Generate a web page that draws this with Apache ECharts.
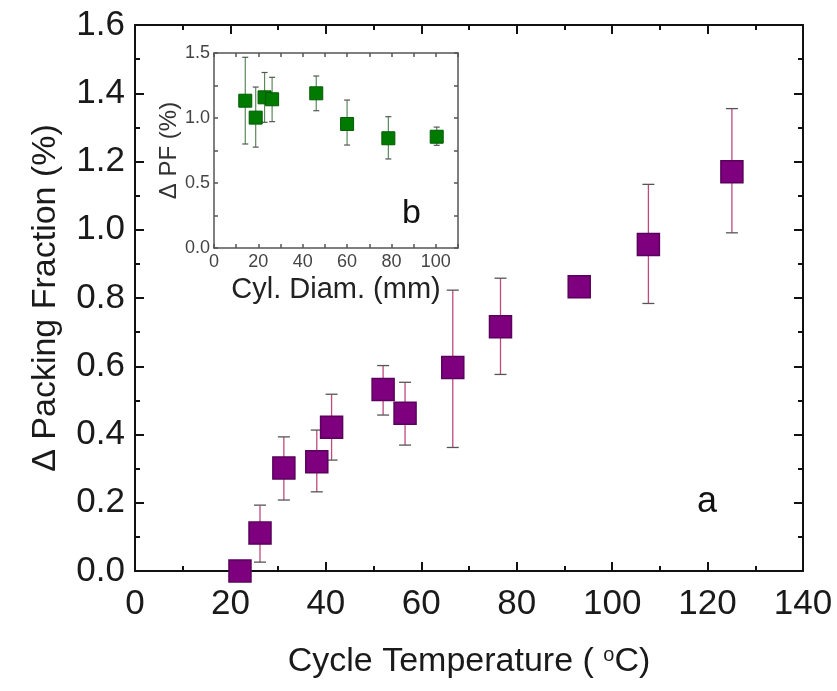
<!DOCTYPE html>
<html>
<head>
<meta charset="utf-8">
<script src="https://cdn.jsdelivr.net/npm/echarts@6/dist/echarts.min.js"></script>
<style>
  html, body { margin: 0; padding: 0; background: #fff; }
  #chart { width: 837px; height: 691px; }
</style>
</head>
<body>
<div id="chart"></div>
<script>
// Panel a: packing fraction change vs. cycle temperature
const tempC      = [22,   26.2,  31.2,  38.1,  41.2,  52.0,  56.6,  66.6,  76.6,  93.1,  107.6, 125.1];
const packDelta  = [0.0,  0.111, 0.302, 0.320, 0.421, 0.532, 0.462, 0.596, 0.716, 0.833, 0.957, 1.170];
const packLow    = [0.0,  0.026, 0.208, 0.232, 0.325, 0.457, 0.369, 0.362, 0.576, 0.815, 0.784, 0.991];
const packHigh   = [0.0,  0.193, 0.393, 0.413, 0.518, 0.602, 0.553, 0.823, 0.858, 0.851, 1.133, 1.355];

// Panel b: packing fraction change vs. cylinder diameter
const diamMm     = [14.1, 18.8, 22.8, 26.2, 46.1, 60.0, 78.6, 100.4];
const pfDelta    = [1.133, 1.003, 1.159, 1.144, 1.190, 0.954, 0.844, 0.856];
const pfLow      = [0.800, 0.776, 0.967, 0.972, 1.056, 0.792, 0.685, 0.790];
const pfHigh     = [1.467, 1.238, 1.350, 1.313, 1.323, 1.138, 1.010, 0.930];

const mainXTicks = [0, 20, 40, 60, 80, 100, 120, 140];
const mainYTicks = [0.0, 0.2, 0.4, 0.6, 0.8, 1.0, 1.2, 1.4, 1.6];
const insetXTicks = [0, 20, 40, 60, 80, 100];
const insetYTicks = [0.0, 0.5, 1.0, 1.5];

const FONT = '"Liberation Sans", Arial, sans-serif';

function errorBars(capHalf, stemColor, capColor, width) {
  return function (params, api) {
    const x = api.value(0), lo = api.value(1), hi = api.value(2);
    if (lo === hi) return null;
    const a = api.coord([x, lo]);
    const b = api.coord([x, hi]);
    const st = { stroke: stemColor, lineWidth: width };
    const ct = { stroke: capColor, lineWidth: width };
    return {
      type: 'group',
      children: [
        { type: 'line', shape: { x1: a[0], y1: a[1], x2: b[0], y2: b[1] }, style: st },
        { type: 'line', shape: { x1: b[0] - capHalf, y1: b[1], x2: b[0] + capHalf, y2: b[1] }, style: ct },
        { type: 'line', shape: { x1: a[0] - capHalf, y1: a[1], x2: a[0] + capHalf, y2: a[1] }, style: ct }
      ]
    };
  };
}

const chart = echarts.init(document.getElementById('chart'), null, { renderer: 'canvas' });

const mainLine = { show: true, onZero: false, lineStyle: { color: '#111', width: 2 } };
const insetLine = { show: true, onZero: false, lineStyle: { color: '#555', width: 1.5 } };

function mainX(pos, labels) {
  return {
    gridIndex: 0, type: 'value', position: pos, min: 0, max: 140, interval: 20,
    axisLine: mainLine,
    axisTick: { show: true, inside: true, length: 9, lineStyle: { color: '#111', width: 2 } },
    minorTick: { show: true, splitNumber: 2, length: 5, lineStyle: { color: '#111', width: 2 } },
    splitLine: { show: false },
    axisLabel: labels ? {
      show: true, margin: 16, color: '#1a1a1a', fontFamily: FONT, fontSize: 35,
      formatter: v => mainXTicks.includes(v) ? String(v) : ''
    } : { show: false }
  };
}
function mainY(pos, labels) {
  return {
    gridIndex: 0, type: 'value', position: pos, min: 0, max: 1.6, interval: 0.2,
    axisLine: mainLine,
    axisTick: { show: true, inside: true, length: 9, lineStyle: { color: '#111', width: 2 } },
    minorTick: { show: true, splitNumber: 2, length: 5, lineStyle: { color: '#111', width: 2 } },
    splitLine: { show: false },
    axisLabel: labels ? {
      show: true, margin: 10, color: '#1a1a1a', fontFamily: FONT, fontSize: 35,
      formatter: v => {
        const t = mainYTicks.find(k => Math.abs(k - v) < 1e-6);
        return t === undefined ? '' : t.toFixed(1);
      }
    } : { show: false }
  };
}
function insetX(pos, labels) {
  return {
    gridIndex: 1, type: 'value', position: pos, min: 0, max: 110, interval: 10,
    axisLine: insetLine,
    axisTick: { show: true, inside: true, length: 4, lineStyle: { color: '#555', width: 1.5 } },
    splitLine: { show: false },
    axisLabel: labels ? {
      show: true, margin: 5, color: '#444', fontFamily: FONT, fontSize: 18,
      formatter: v => insetXTicks.includes(v) ? String(v) : ''
    } : { show: false }
  };
}
function insetY(pos, labels) {
  return {
    gridIndex: 1, type: 'value', position: pos, min: 0, max: 1.5, interval: 0.25,
    axisLine: insetLine,
    axisTick: { show: true, inside: true, length: 4, lineStyle: { color: '#555', width: 1.5 } },
    splitLine: { show: false },
    axisLabel: labels ? {
      show: true, margin: 4, color: '#444', fontFamily: FONT, fontSize: 18,
      formatter: v => {
        const t = insetYTicks.find(k => Math.abs(k - v) < 1e-6);
        return t === undefined ? '' : t.toFixed(1);
      }
    } : { show: false }
  };
}

const xA = [mainX('bottom', true), mainX('top', false), insetX('bottom', true), insetX('top', false)];
xA[0].name = 'Cycle Temperature ( {sup|o}C)';
xA[0].nameLocation = 'middle';
xA[0].nameGap = 74;
xA[0].nameTextStyle = {
  color: '#1a1a1a', fontFamily: FONT, fontSize: 34,
  rich: { sup: { fontFamily: FONT, fontSize: 20, color: '#1a1a1a', verticalAlign: 'top', padding: [0, 0, 14, 0] } }
};
xA[2].name = 'Cyl. Diam. (mm)';
xA[2].nameLocation = 'middle';
xA[2].nameGap = 27;
xA[2].nameTextStyle = { color: '#222', fontFamily: FONT, fontSize: 29 };

const yA = [mainY('left', true), mainY('right', false), insetY('left', true), insetY('right', false)];
yA[0].name = 'Δ Packing Fraction (%)';
yA[0].nameLocation = 'middle';
yA[0].nameGap = 72;
yA[0].nameTextStyle = { color: '#1a1a1a', fontFamily: FONT, fontSize: 34 };
yA[2].name = 'Δ PF (%)';
yA[2].nameLocation = 'middle';
yA[2].nameGap = 33;
yA[2].nameTextStyle = { color: '#333', fontFamily: FONT, fontSize: 24 };

chart.setOption({
  animation: false,
  backgroundColor: '#fff',
  grid: [
    { left: 135, right: 34, top: 25, bottom: 120 },
    { left: 214, top: 53, width: 244, height: 195, show: true, backgroundColor: '#fff', borderWidth: 0 }
  ],
  xAxis: xA,
  yAxis: yA,
  graphic: [
    { type: 'text', left: 697, top: 484, style: { text: 'a', font: '36px ' + FONT, fill: '#111' } },
    { type: 'text', left: 402, top: 197, style: { text: 'b', font: '34px ' + FONT, fill: '#111' } }
  ],
  series: [
    {
      type: 'custom', xAxisIndex: 0, yAxisIndex: 0, z: 2,
      renderItem: errorBars(6, '#c04a7e', '#555', 1.3),
      data: tempC.map((t, i) => [t, packLow[i], packHigh[i]])
    },
    {
      type: 'scatter', xAxisIndex: 0, yAxisIndex: 0, z: 3,
      symbol: 'rect', symbolSize: 22,
      itemStyle: { color: '#7e007f', borderColor: '#5a005c', borderWidth: 1.5, opacity: 1 },
      data: tempC.map((t, i) => [t, packDelta[i]])
    },
    {
      type: 'custom', xAxisIndex: 2, yAxisIndex: 2, z: 4,
      renderItem: errorBars(3, '#5a8a5a', '#555', 1.2),
      data: diamMm.map((d, i) => [d, pfLow[i], pfHigh[i]])
    },
    {
      type: 'scatter', xAxisIndex: 2, yAxisIndex: 2, z: 5,
      symbol: 'rect', symbolSize: 13,
      itemStyle: { color: '#007a00', borderColor: '#005c00', borderWidth: 1, opacity: 1 },
      data: diamMm.map((d, i) => [d, pfDelta[i]])
    }
  ]
});
</script>
</body>
</html>
